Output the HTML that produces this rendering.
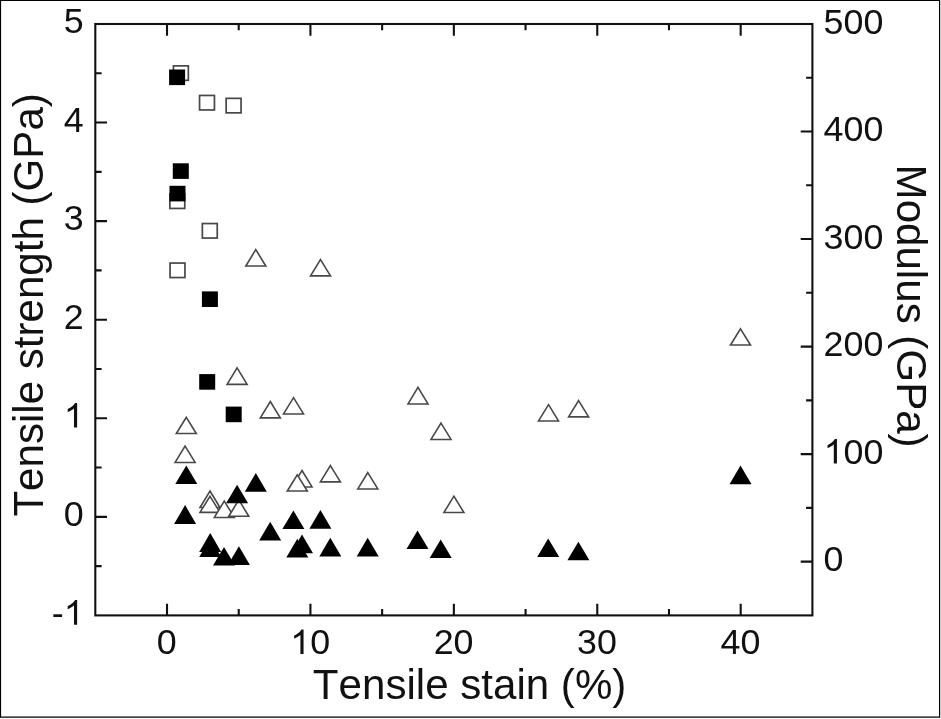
<!DOCTYPE html>
<html><head><meta charset="utf-8"><title>Tensile strength and modulus vs tensile strain</title>
<style>html,body{margin:0;padding:0;background:#fff;}body{width:941px;height:719px;overflow:hidden;font-family:"Liberation Sans",sans-serif;}svg{display:block;will-change:transform;}text{font-kerning:none;}</style>
</head><body>
<svg width="941" height="719" viewBox="0 0 941 719">
<rect x="0" y="0" width="941" height="719" fill="#fff"/>
<g>
<path d="M0 0H940.2V717.75H0Z M1.1 1.1V716.6H939.0V1.1Z" fill="#000" fill-rule="evenodd"/>
<rect x="95.3" y="24.0" width="717.10" height="591.40" fill="none" stroke="#111" stroke-width="2.1"/>
<path d="M167.01 615.4 v-11.7 M167.01 24.0 v11.7 M238.72 615.4 v-6.3 M238.72 24.0 v6.3 M310.43 615.4 v-11.7 M310.43 24.0 v11.7 M382.14 615.4 v-6.3 M382.14 24.0 v6.3 M453.85 615.4 v-11.7 M453.85 24.0 v11.7 M525.56 615.4 v-6.3 M525.56 24.0 v6.3 M597.27 615.4 v-11.7 M597.27 24.0 v11.7 M668.98 615.4 v-6.3 M668.98 24.0 v6.3 M740.69 615.4 v-11.7 M740.69 24.0 v11.7 M95.3 566.12 h6.3 M95.3 516.83 h11.7 M95.3 467.55 h6.3 M95.3 418.27 h11.7 M95.3 368.98 h6.3 M95.3 319.70 h11.7 M95.3 270.42 h6.3 M95.3 221.13 h11.7 M95.3 171.85 h6.3 M95.3 122.57 h11.7 M95.3 73.28 h6.3 M812.4 561.64 h-11.7 M812.4 507.87 h-6.3 M812.4 454.11 h-11.7 M812.4 400.35 h-6.3 M812.4 346.58 h-11.7 M812.4 292.82 h-6.3 M812.4 239.05 h-11.7 M812.4 185.29 h-6.3 M812.4 131.53 h-11.7 M812.4 77.76 h-6.3" fill="none" stroke="#111" stroke-width="2.1"/>
<rect x="173.45" y="65.85" width="14.9" height="14.5" fill="#fff" stroke="#484848" stroke-width="1.7"/>
<rect x="199.55" y="95.45" width="14.9" height="14.5" fill="#fff" stroke="#484848" stroke-width="1.7"/>
<rect x="226.15" y="98.35" width="14.9" height="14.5" fill="#fff" stroke="#484848" stroke-width="1.7"/>
<rect x="169.85" y="193.95" width="14.9" height="14.5" fill="#fff" stroke="#484848" stroke-width="1.7"/>
<rect x="202.35" y="223.55" width="14.9" height="14.5" fill="#fff" stroke="#484848" stroke-width="1.7"/>
<rect x="170.05" y="263.05" width="14.9" height="14.5" fill="#fff" stroke="#484848" stroke-width="1.7"/>
<path d="M255.80 249.60 L265.80 266.05 H245.80 Z" fill="#fff" stroke="#484848" stroke-width="1.6" stroke-linejoin="miter"/>
<path d="M320.50 259.60 L330.50 275.85 H310.50 Z" fill="#fff" stroke="#484848" stroke-width="1.6" stroke-linejoin="miter"/>
<path d="M237.10 367.90 L247.10 384.35 H227.10 Z" fill="#fff" stroke="#484848" stroke-width="1.6" stroke-linejoin="miter"/>
<path d="M270.30 401.50 L280.30 417.85 H260.30 Z" fill="#fff" stroke="#484848" stroke-width="1.6" stroke-linejoin="miter"/>
<path d="M293.50 397.70 L303.50 413.95 H283.50 Z" fill="#fff" stroke="#484848" stroke-width="1.6" stroke-linejoin="miter"/>
<path d="M186.30 417.30 L196.30 433.55 H176.30 Z" fill="#fff" stroke="#484848" stroke-width="1.6" stroke-linejoin="miter"/>
<path d="M185.10 446.10 L195.10 462.45 H175.10 Z" fill="#fff" stroke="#484848" stroke-width="1.6" stroke-linejoin="miter"/>
<path d="M210.00 491.00 L220.00 507.55 H200.00 Z" fill="#fff" stroke="#484848" stroke-width="1.6" stroke-linejoin="miter"/>
<path d="M210.00 496.30 L220.00 512.35 H200.00 Z" fill="#fff" stroke="#484848" stroke-width="1.6" stroke-linejoin="miter"/>
<path d="M224.30 501.10 L234.30 517.45 H214.30 Z" fill="#fff" stroke="#484848" stroke-width="1.6" stroke-linejoin="miter"/>
<path d="M238.80 499.90 L248.80 516.25 H228.80 Z" fill="#fff" stroke="#484848" stroke-width="1.6" stroke-linejoin="miter"/>
<path d="M302.00 470.50 L312.00 486.95 H292.00 Z" fill="#fff" stroke="#484848" stroke-width="1.6" stroke-linejoin="miter"/>
<path d="M297.30 474.80 L307.30 491.05 H287.30 Z" fill="#fff" stroke="#484848" stroke-width="1.6" stroke-linejoin="miter"/>
<path d="M330.40 465.60 L340.40 481.85 H320.40 Z" fill="#fff" stroke="#484848" stroke-width="1.6" stroke-linejoin="miter"/>
<path d="M418.00 387.40 L428.00 403.95 H408.00 Z" fill="#fff" stroke="#484848" stroke-width="1.6" stroke-linejoin="miter"/>
<path d="M441.00 423.10 L451.00 439.45 H431.00 Z" fill="#fff" stroke="#484848" stroke-width="1.6" stroke-linejoin="miter"/>
<path d="M367.80 472.60 L377.80 488.95 H357.80 Z" fill="#fff" stroke="#484848" stroke-width="1.6" stroke-linejoin="miter"/>
<path d="M453.90 496.20 L463.90 512.55 H443.90 Z" fill="#fff" stroke="#484848" stroke-width="1.6" stroke-linejoin="miter"/>
<path d="M548.50 404.70 L558.50 420.95 H538.50 Z" fill="#fff" stroke="#484848" stroke-width="1.6" stroke-linejoin="miter"/>
<path d="M578.60 400.60 L588.60 416.85 H568.60 Z" fill="#fff" stroke="#484848" stroke-width="1.6" stroke-linejoin="miter"/>
<path d="M740.50 328.80 L750.50 345.05 H730.50 Z" fill="#fff" stroke="#484848" stroke-width="1.6" stroke-linejoin="miter"/>
<rect x="169.10" y="69.50" width="16" height="15.6" fill="#000"/>
<rect x="172.80" y="163.30" width="16" height="15.6" fill="#000"/>
<rect x="169.50" y="185.80" width="16" height="15.6" fill="#000"/>
<rect x="201.90" y="291.40" width="16" height="15.6" fill="#000"/>
<rect x="199.20" y="374.10" width="16" height="15.6" fill="#000"/>
<rect x="225.70" y="406.60" width="16" height="15.6" fill="#000"/>
<path d="M186.30 465.40 L197.30 484.00 H175.30 Z" fill="#000"/>
<path d="M185.10 505.10 L196.10 523.90 H174.10 Z" fill="#000"/>
<path d="M255.80 473.00 L266.80 491.80 H244.80 Z" fill="#000"/>
<path d="M237.10 484.70 L248.10 503.30 H226.10 Z" fill="#000"/>
<path d="M270.20 521.80 L281.20 540.50 H259.20 Z" fill="#000"/>
<path d="M293.40 510.40 L304.40 529.10 H282.40 Z" fill="#000"/>
<path d="M320.40 510.00 L331.40 528.70 H309.40 Z" fill="#000"/>
<path d="M210.20 533.10 L221.20 552.00 H199.20 Z" fill="#000"/>
<path d="M210.20 538.30 L221.20 557.00 H199.20 Z" fill="#000"/>
<path d="M224.00 546.90 L235.00 565.50 H213.00 Z" fill="#000"/>
<path d="M238.90 546.30 L249.90 564.90 H227.90 Z" fill="#000"/>
<path d="M302.00 534.60 L313.00 553.20 H291.00 Z" fill="#000"/>
<path d="M297.30 538.80 L308.30 557.40 H286.30 Z" fill="#000"/>
<path d="M330.30 537.80 L341.30 556.40 H319.30 Z" fill="#000"/>
<path d="M367.70 537.80 L378.70 556.40 H356.70 Z" fill="#000"/>
<path d="M417.50 530.50 L428.50 549.00 H406.50 Z" fill="#000"/>
<path d="M440.70 539.40 L451.70 558.10 H429.70 Z" fill="#000"/>
<path d="M548.20 538.50 L559.20 557.10 H537.20 Z" fill="#000"/>
<path d="M578.40 541.70 L589.40 560.30 H567.40 Z" fill="#000"/>
<path d="M740.50 465.60 L751.50 484.20 H729.50 Z" fill="#000"/>
<text x="156.75" y="654.10" font-size="35.8" font-family="Liberation Sans, sans-serif" fill="#111">0</text>
<path transform="translate(290.22 654.10) scale(0.01748 -0.01673)" d="M763 0H583V1147Q518 1085 412.5 1023T223 930V1104Q374 1175 487 1276T647 1472H763Z" fill="#111"/><text x="310.13" y="654.10" font-size="35.8" font-family="Liberation Sans, sans-serif" fill="#111">0</text>
<text x="433.64" y="654.10" font-size="35.8" font-family="Liberation Sans, sans-serif" fill="#111">20</text>
<text x="577.06" y="654.10" font-size="35.8" font-family="Liberation Sans, sans-serif" fill="#111">30</text>
<text x="720.48" y="654.10" font-size="35.8" font-family="Liberation Sans, sans-serif" fill="#111">40</text>
<text x="51.87" y="624.70" font-size="35.8" font-family="Liberation Sans, sans-serif" fill="#111">-</text><path transform="translate(63.79 624.70) scale(0.01748 -0.01673)" d="M763 0H583V1147Q518 1085 412.5 1023T223 930V1104Q374 1175 487 1276T647 1472H763Z" fill="#111"/>
<text x="63.79" y="526.13" font-size="35.8" font-family="Liberation Sans, sans-serif" fill="#111">0</text>
<path transform="translate(63.79 427.57) scale(0.01748 -0.01673)" d="M763 0H583V1147Q518 1085 412.5 1023T223 930V1104Q374 1175 487 1276T647 1472H763Z" fill="#111"/>
<text x="63.79" y="329.00" font-size="35.8" font-family="Liberation Sans, sans-serif" fill="#111">2</text>
<text x="63.79" y="230.43" font-size="35.8" font-family="Liberation Sans, sans-serif" fill="#111">3</text>
<text x="63.79" y="131.87" font-size="35.8" font-family="Liberation Sans, sans-serif" fill="#111">4</text>
<text x="63.79" y="33.30" font-size="35.8" font-family="Liberation Sans, sans-serif" fill="#111">5</text>
<text x="823.60" y="571.14" font-size="35.8" font-family="Liberation Sans, sans-serif" fill="#111">0</text>
<path transform="translate(823.60 463.61) scale(0.01748 -0.01673)" d="M763 0H583V1147Q518 1085 412.5 1023T223 930V1104Q374 1175 487 1276T647 1472H763Z" fill="#111"/><text x="843.51" y="463.61" font-size="35.8" font-family="Liberation Sans, sans-serif" fill="#111">00</text>
<text x="823.60" y="356.08" font-size="35.8" font-family="Liberation Sans, sans-serif" fill="#111">200</text>
<text x="823.60" y="248.55" font-size="35.8" font-family="Liberation Sans, sans-serif" fill="#111">300</text>
<text x="823.60" y="141.03" font-size="35.8" font-family="Liberation Sans, sans-serif" fill="#111">400</text>
<text x="823.60" y="33.50" font-size="35.8" font-family="Liberation Sans, sans-serif" fill="#111">500</text>
<text x="469.6" y="698.6" font-size="42.1" text-anchor="middle" font-family="Liberation Sans, sans-serif" fill="#111">Tensile stain (%)</text>
<text transform="translate(43.0 304.9) rotate(-90)" font-size="42.1" text-anchor="middle" font-family="Liberation Sans, sans-serif" fill="#111">Tensile strength (GPa)</text>
<text transform="translate(897.1 306.1) rotate(90)" font-size="42.1" text-anchor="middle" font-family="Liberation Sans, sans-serif" fill="#111">Modulus (GPa)</text>
</g>
</svg>
</body></html>
